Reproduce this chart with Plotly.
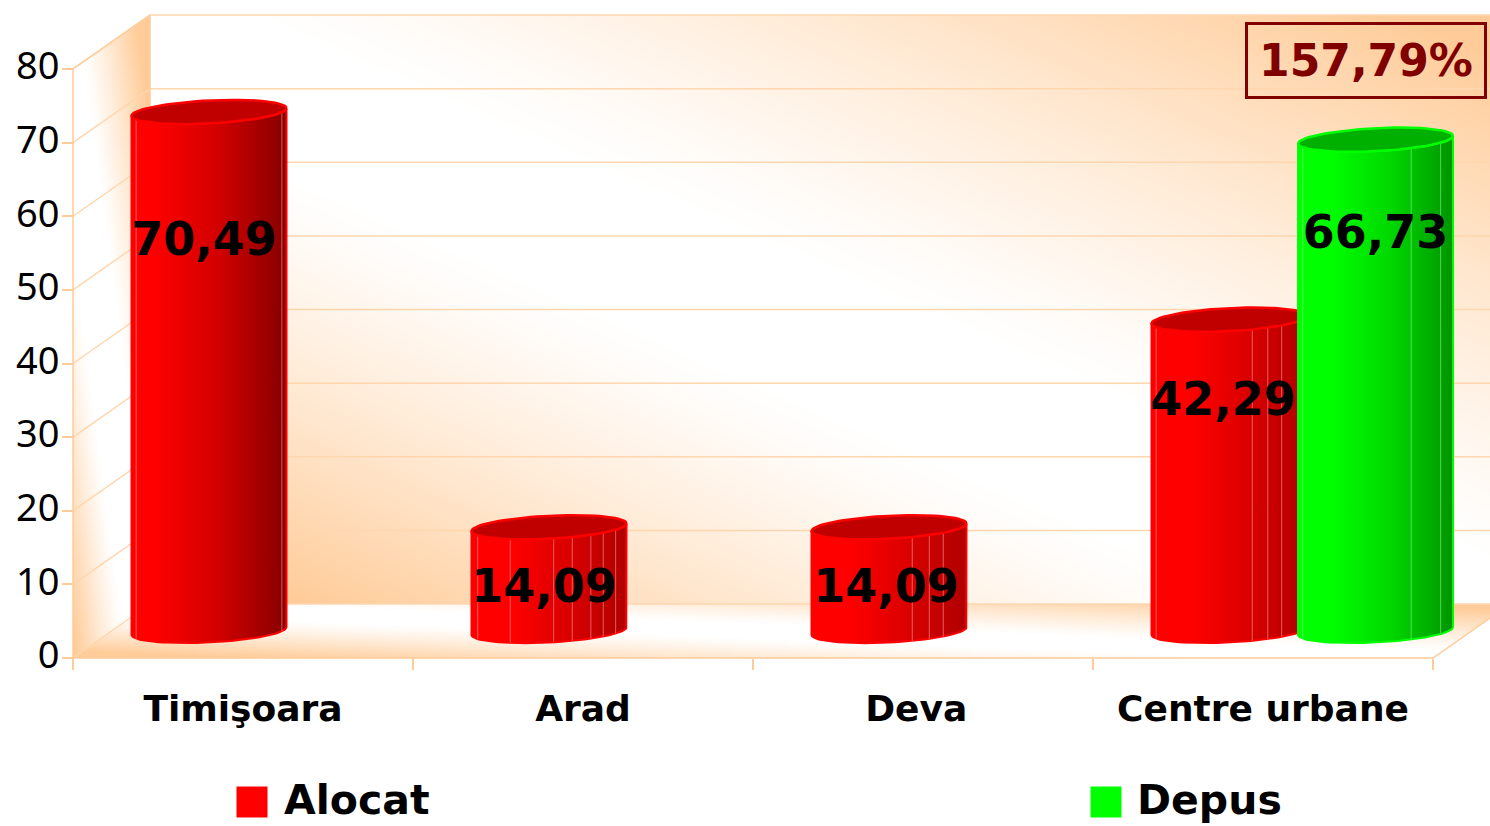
import numpy as np
import plotly.graph_objects as go

# ---- data ----
categories = ["Timişoara", "Arad", "Deva", "Centre urbane"]
category_label_pos = [0, 1, 1.98, 3]
alocat = [70.49, 14.09, 14.09, 42.29]
depus_category = ["Centre urbane"]
depus = [66.73]
summary_label = "157,79%"
value_ticks = [0, 10, 20, 30, 40, 50, 60, 70, 80]
# height at which each value label sits (axis units)
alocat_label_y = [56.3, 9.2, 9.2, 34.5]
depus_label_y = [57.2]

# ---- scales (canvas <-> axis) ----
W, H = 1490, 826
PX_PER_CAT, PX_PER_UNIT = 340.0, 7.3625
CAT0_PX, ZERO_PX = 243.0, 658.0
DEPTH_X, DEPTH_Y = 77.0, 54.0
def X(px): return (px - CAT0_PX) / PX_PER_CAT
def Y(py): return (ZERO_PX - py) / PX_PER_UNIT
xr = [X(0), X(W)]
yr = [Y(H), Y(0)]
ddx, ddy = DEPTH_X / PX_PER_CAT, DEPTH_Y / PX_PER_UNIT

ORANGE = "#ffcc99"
GRID = "#ffd6ae"
fig = go.Figure()

# ---- walls: a single background raster ----
xs = np.arange(73, W)
ys = np.arange(15, 659)
PX, PY = np.meshgrid(xs + 0.5, ys + 0.5)
z = np.zeros(PX.shape)
side = (PX - 73) / DEPTH_X
edge_top = 69 - side * DEPTH_Y
edge_bot = 658 - side * DEPTH_Y
is_side = (PX < 150) & (PY >= edge_top) & (PY <= edge_bot)
is_back = (PX >= 150) & (PY <= 604)
right_edge = 1433 + (658 - PY) / DEPTH_Y * DEPTH_X
is_floor = (PY > 604) & (PY <= 658) & (PY >= edge_bot) & (PX <= right_edge)
def grad(t, lo, lo_span, hi, hi_span, p=1.0):
    return np.clip((lo - t) / lo_span, 0, 1) ** p + np.clip((t - hi) / hi_span, 0, 1) ** p
z[is_side] = grad(((PX - 73) / DEPTH_X + (658 - PY) / 589)[is_side], 0.7, 0.65, 1.15, 0.75, 1.15)
z[is_back] = grad(((PX - 150) / 1340 + (604 - PY) / 589)[is_back], 0.84, 0.72, 1.06, 0.87, 1.25)
z[is_floor] = grad(((PX - 73) / 1417 + (658 - PY) / 54)[is_floor], 0.85, 0.72, 1.1, 0.8, 1.2)
fig.add_trace(go.Heatmap(
    z=np.flipud((z * 255).astype(np.uint8)), x0=X(73.5), dx=1 / PX_PER_CAT,
    y0=Y(658.5), dy=1 / PX_PER_UNIT, zmin=0, zmax=255, showscale=False,
    colorscale=[[0, "#ffffff"], [1, ORANGE]], hoverinfo="skip"))

# ---- gridlines ----
gx, gy = [], []
for v in value_ticks:
    gx += [X(73), X(73) + ddx, xr[1], None]
    gy += [v, v + ddy, v + ddy, None]
fig.add_trace(go.Scatter(x=gx, y=gy, mode="lines", line=dict(color=GRID, width=1.5),
                         hoverinfo="skip", showlegend=False))
fx = [X(73), X(73), X(73) + ddx, X(73) + ddx, None, X(73), X(1433), X(1490)]
fy = [0, 80, 80 + ddy, 0 + ddy, None, 0, 0, 0 + (1490 - 1433) / DEPTH_X * ddy]
fig.add_trace(go.Scatter(x=fx, y=fy, mode="lines", line=dict(color=ORANGE, width=1.5),
                         hoverinfo="skip", showlegend=False))

# ---- cylinders ----
BAR_W = 155 / PX_PER_CAT
RY, SKEW = 11.5 / PX_PER_UNIT, 0.05 * PX_PER_CAT / PX_PER_UNIT
bar_seams = [
    [0.03, 0.97],
    [0.04, 0.25, 0.53, 0.65, 0.77, 0.85, 0.93],
    [0.65, 0.76, 0.85],
    [0.03, 0.65, 0.75, 0.84],
]

def cylinder(center, value, scale, top_col, edge, seam_col, seams, name):
    rx = BAR_W / 2
    th = np.linspace(np.pi, 2 * np.pi, 41)
    ax = center + rx * np.cos(th)
    rim = RY * np.sin(th) + SKEW * (ax - center)
    base, top = ddy / 2, value + ddy / 2
    bx = np.r_[ax, ax[::-1], ax[0]]
    by = np.r_[top + rim, (base + rim)[::-1], top + rim[0]]
    fig.add_trace(go.Scatter(
        x=bx, y=by, mode="lines", fill="toself", line=dict(color=edge, width=2),
        fillgradient=dict(type="horizontal", colorscale=scale),
        hoverinfo="skip", showlegend=False, name=name))
    sx, sy = [], []
    for f in seams:
        px = center - rx + f * BAR_W
        r = RY * -np.sqrt(max(0, 1 - ((px - center) / rx) ** 2)) + SKEW * (px - center)
        sx += [px, px, None]
        sy += [top + r, base + r, None]
    fig.add_trace(go.Scatter(x=sx, y=sy, mode="lines", line=dict(color=seam_col, width=1),
                             hoverinfo="skip", showlegend=False))
    t2 = np.linspace(0, 2 * np.pi, 81)
    ex = center + rx * np.cos(t2)
    ey = top + RY * np.sin(t2) + SKEW * (ex - center)
    fig.add_trace(go.Scatter(x=ex, y=ey, mode="lines", fill="toself", fillcolor=top_col,
                             line=dict(color=edge, width=2.5), hoverinfo="skip", showlegend=False))

scale_dark = [[0, "#ff0000"], [0.13, "#ff0000"], [0.55, "#d40000"], [0.97, "#8b0000"], [1, "#8b0000"]]
scale_light = [[0, "#ff0000"], [0.25, "#ff0000"], [0.6, "#dd0000"], [1, "#b00000"]]
scale_green = [[0, "#00ff00"], [0.2, "#00ff00"], [0.6, "#00d800"], [1, "#009400"]]
cat_pos = {c: i for i, c in enumerate(categories)}
RED_OFF = -0.1
red_c = [cat_pos[c] + RED_OFF for c in categories]
for i, (c, v) in enumerate(zip(red_c, alocat)):
    cylinder(c, v, scale_dark if i == 0 else scale_light, "#c00000", "#ff0000",
             "rgba(255,170,170,0.55)", bar_seams[i], "Alocat")
green_c = [cat_pos[c] + 0.331 for c in depus_category]
for c, v in zip(green_c, depus):
    cylinder(c, v, scale_green, "#00b000", "#00ff00", "rgba(170,255,170,0.5)", [0.03, 0.73, 0.92], "Depus")

# ---- value labels ----
LABEL_FONT = dict(family="DejaVu Sans", size=46, color="#000000", weight="bold")
lab = lambda v: f"{v:.2f}".replace(".", ",")
label_dx = [-5, -5, -3, -6]
fig.add_trace(go.Scatter(
    x=[c + d / PX_PER_CAT for c, d in zip(red_c, label_dx)] + green_c, y=alocat_label_y + depus_label_y,
    mode="text", text=[lab(v) for v in alocat + depus], textposition="middle center",
    textfont=LABEL_FONT, cliponaxis=False, hoverinfo="skip", showlegend=False))

# ---- legend keys ----
fig.add_trace(go.Scatter(x=[X(252)], y=[Y(802)], mode="markers", name="Alocat", showlegend=False,
                         marker=dict(symbol="square", size=31, color="#ff0000"), hoverinfo="skip"))
fig.add_trace(go.Scatter(x=[X(1106)], y=[Y(802)], mode="markers", name="Depus", showlegend=False,
                         marker=dict(symbol="square", size=31, color="#00ff00"), hoverinfo="skip"))

legend_font = dict(family="DejaVu Sans", size=41, color="#000000", weight="bold")
anns = [
    dict(x=282 / W, y=1 - 800 / H, text="Alocat", xanchor="left", yanchor="middle", font=legend_font),
    dict(x=1135 / W, y=1 - 800 / H, text="Depus", xanchor="left", yanchor="middle", font=legend_font),
    dict(x=1366 / W, y=1 - 61 / H, text=summary_label, xanchor="center", yanchor="middle", width=236, height=71,
         bordercolor="#800000", borderwidth=3, borderpad=0,
         font=dict(family="DejaVu Sans", size=44, color="#800000", weight="bold")),
]
for a in anns:
    a.update(xref="paper", yref="paper", showarrow=False)

boundaries = [i - 0.5 for i in range(len(categories) + 1)]
fig.update_layout(
    width=W, height=H, margin=dict(l=0, r=0, t=0, b=0, pad=0),
    paper_bgcolor="#ffffff", plot_bgcolor="#ffffff", showlegend=False, annotations=anns,
    xaxis=dict(range=xr, anchor="free", position=1 - 658 / H, showgrid=False, zeroline=False,
               showline=False, tickmode="array", tickvals=category_label_pos, ticktext=categories,
               ticks="", ticklabelstandoff=26,
               tickfont=dict(family="DejaVu Sans", size=36, color="#000000", weight="bold"),
               minor=dict(tickmode="array", tickvals=boundaries, ticks="outside", ticklen=11,
                          tickcolor=ORANGE, tickwidth=1.5, showgrid=False)),
    yaxis=dict(range=yr, anchor="free", position=73 / W, showgrid=False, zeroline=False,
               showline=False, tickmode="array", tickvals=value_ticks, ticks="outside", ticklen=11,
               tickcolor=ORANGE, tickwidth=1.5, ticklabelstandoff=-5, ticklabelshift=-3,
               tickfont=dict(family="Noto Sans", size=38, color="#000000")),
)
fig.write_html("out.html", config=dict(displayModeBar=False),
               post_script="document.body.style.margin='0';document.documentElement.style.overflow='hidden';")
